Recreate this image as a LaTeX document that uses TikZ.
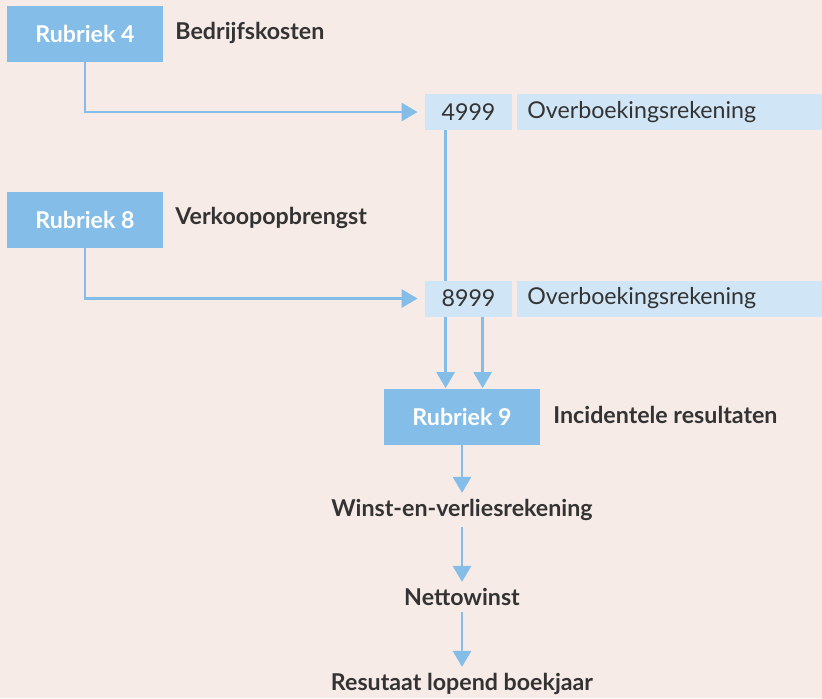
\documentclass[tikz,border=0pt]{standalone}
\usepackage{fontspec}
\setmainfont{Lato}
\usetikzlibrary{arrows.meta,backgrounds}
\definecolor{achtergrond}{HTML}{F6EBE6}
\definecolor{blauw}{HTML}{83BDE8}
\definecolor{lichtblauw}{HTML}{D0E5F5}
\definecolor{tekst}{HTML}{333333}
\begin{document}
\begin{tikzpicture}[x=0.5pt,y=-0.5pt]
\tikzstyle{every node}+=[inner sep=0pt, text=tekst, font=\fontsize{11.6}{13}\selectfont]
\tikzstyle{rubriek}=[fill=blauw, text=white, font=\fontsize{11.6}{13}\selectfont\bfseries, minimum width=78pt, minimum height=28pt]
\tikzstyle{titel}=[anchor=west, font=\fontsize{11.6}{13}\selectfont\bfseries]
\tikzstyle{nummer}=[fill=lichtblauw, minimum width=43.5pt, minimum height=18pt]
\tikzstyle{rekening}=[fill=lichtblauw, anchor=west, minimum width=152.5pt, minimum height=18pt, text width=147.5pt, inner xsep=5pt]
\tikzstyle{stap}=[font=\fontsize{11.6}{13}\selectfont\bfseries, inner sep=3pt]
\tikzstyle{pijl}=[draw=blauw, line width=1.4pt, -{Triangle[width=9pt,length=8pt]}]
\useasboundingbox (0,0) rectangle (822,698);
% rubrieken
\node [rubriek] (r4) at (85,34) {Rubriek 4};
\node [titel] (t4) at (175,33) {Bedrijfskosten};
\node [rubriek] (r8) at (85,220) {Rubriek 8};
\node [titel] (t8) at (175,218) {Verkoopopbrengst};
\node [rubriek] (r9) at (462,416.5) {Rubriek 9};
\node [titel] (t9) at (553,415) {Incidentele resultaten};
% overboekingsrekeningen
\node [nummer] (n4999) at (468.5,112) {4999};
\node [rekening] (o4999) at (517,112) {Overboekingsrekening};
\node [nummer] (n8999) at (468.5,298.5) {8999};
\node [rekening] (o8999) at (517,298.5) {Overboekingsrekening};
% resultaat
\node [stap] (winst) at (462,510) {Winst-en-verliesrekening};
\node [stap] (netto) at (462,597) {Nettowinst};
\node [stap] (result) at (462,684) {Resutaat lopend boekjaar};
\path (n4999.south west) ++(21,0) coordinate (v1);
\path (n8999.south west) ++(58,0) coordinate (v2);
\begin{scope}[on background layer]
\fill [achtergrond] (0,0) rectangle (822,698);
\draw [pijl, shorten >=3.5pt] (r4.south) |- (n4999.west);
\draw [pijl, shorten >=3.5pt] (r8.south) |- (n8999.west);
\draw [pijl] (v1) -- (v1 |- r9.north);
\draw [pijl] (v2) -- (v2 |- r9.north);
\draw [pijl] (r9) -- (winst);
\draw [pijl] (winst) -- (netto);
\draw [pijl] (netto) -- (result);
\end{scope}
\end{tikzpicture}
\end{document}
